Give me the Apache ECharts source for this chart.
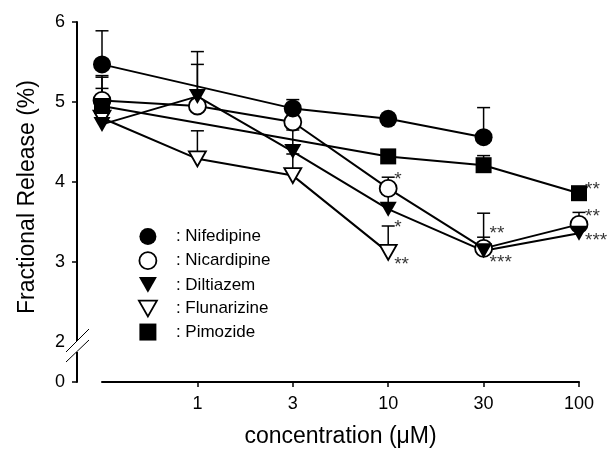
<!DOCTYPE html>
<html>
<head>
<meta charset="utf-8">
<script src="https://cdn.jsdelivr.net/npm/echarts@6/dist/echarts.min.js"></script>
<style>
  html, body { margin: 0; padding: 0; background: #fff; }
  #chart { width: 607px; height: 459px; }
</style>
</head>
<body>
<div id="chart"></div>
<script>
// ---- data ----
var categories = ['', '1', '3', '10', '30', '100']; // first = control
var seriesNames = ['Nifedipine', 'Nicardipine', 'Diltiazem', 'Flunarizine', 'Pimozide'];

var nifedipine     = [5.47, null, 4.92, 4.79, 4.56, null];
var nifedipineErr  = [5.89, null, 5.03, null, 4.93, null];
var nicardipine    = [5.02, 4.95, 4.75, 3.92, 3.17, 3.47];
var nicardipineErr = [5.33, 5.47, 4.88, 4.06, 3.61, 3.62];
var diltiazem      = [4.72, 5.07, 4.38, 3.66, 3.14, 3.36];
var diltiazemErr   = [5.31, 5.63, 4.65, 3.85, 3.31, 3.44];
var flunarizine    = [4.80, 4.29, 4.08, 3.12, null, null];
var flunarizineErr = [5.17, 4.64, 4.35, 3.45, null, null];
var pimozide       = [4.95, null, null, 4.32, 4.21, 3.86];
var pimozideErr    = [null, null, null, null, 4.33, null];

// significance marks: [category index, value level, text]
var stars = [
  [3, 4.09, '*'], [3, 3.49, '*'], [3, 3.03, '**'],
  [4, 3.41, '**'], [4, 3.05, '***'],
  [5, 3.96, '**'], [5, 3.63, '**'], [5, 3.33, '***']
];

var yLabelValues = [1.5, 2, 3, 4, 5, 6]; // 1.5 stands for the broken-axis "0"
var yTickValues = [1.5, 3, 4, 5, 6];

// ---- styling ----
var FONT = 'Liberation Sans, Arial, Helvetica, sans-serif';
var BLACK = '#000';

var styles = {
  Nifedipine:  { symbol: 'circle',   size: 18,       rotate: 0,   fill: BLACK,  border: 0,   z: 9 },
  Nicardipine: { symbol: 'circle',   size: 17,       rotate: 0,   fill: '#fff', border: 1.8, z: 5 },
  Diltiazem:   { symbol: 'triangle', size: [17, 15], rotate: 180, fill: BLACK,  border: 0,   z: 7 },
  Flunarizine: { symbol: 'triangle', size: [17, 15], rotate: 180, fill: '#fff', border: 1.8, z: 6 },
  Pimozide:    { symbol: 'rect',     size: 16,       rotate: 0,   fill: BLACK,  border: 0,   z: 8 }
};

var values = {
  Nifedipine: nifedipine, Nicardipine: nicardipine, Diltiazem: diltiazem,
  Flunarizine: flunarizine, Pimozide: pimozide
};
var errs = {
  Nifedipine: nifedipineErr, Nicardipine: nicardipineErr, Diltiazem: diltiazemErr,
  Flunarizine: flunarizineErr, Pimozide: pimozideErr
};

function toSeriesData(arr) {
  return arr.map(function (v) { return v == null ? '-' : v; });
}

var series = [];
seriesNames.forEach(function (name) {
  series.push({
    name: name,
    type: 'line',
    data: toSeriesData(values[name]),
    connectNulls: true,
    symbol: 'none',
    lineStyle: { color: BLACK, width: 2 },
    z: 2,
    silent: true,
    animation: false
  });
});

// error bars (upper SEM)
var errData = [];
seriesNames.forEach(function (name) {
  values[name].forEach(function (v, i) {
    var e = errs[name][i];
    if (v != null && e != null) errData.push([i, v, e]);
  });
});
series.push({
  type: 'custom',
  name: 'err',
  data: errData,
  z: 3,
  silent: true,
  animation: false,
  renderItem: function (params, api) {
    var p0 = api.coord([api.value(0), api.value(1)]);
    var p1 = api.coord([api.value(0), api.value(2)]);
    var st = { stroke: BLACK, lineWidth: 1.5 };
    return {
      type: 'group',
      children: [
        { type: 'line', shape: { x1: p0[0], y1: p0[1], x2: p1[0], y2: p1[1] }, style: st },
        { type: 'line', shape: { x1: p1[0] - 6.5, y1: p1[1], x2: p1[0] + 6.5, y2: p1[1] }, style: st }
      ]
    };
  }
});

// markers
seriesNames.forEach(function (name) {
  var st = styles[name];
  series.push({
    name: name,
    type: 'scatter',
    data: toSeriesData(values[name]),
    symbol: st.symbol,
    symbolSize: st.size,
    symbolRotate: st.rotate,
    itemStyle: { color: st.fill, borderColor: BLACK, borderWidth: st.border, opacity: 1 },
    z: st.z,
    animation: false
  });
});

// significance asterisks
series.push({
  type: 'scatter',
  name: 'stars',
  data: stars,
  symbolSize: 0,
  z: 10,
  silent: true,
  animation: false,
  label: {
    show: true,
    position: 'right',
    distance: 6,
    offset: [0, 5],
    formatter: function (p) { return p.data[2]; },
    fontFamily: FONT,
    fontSize: 19,
    color: BLACK
  }
});

var legendIcons = {
  Nifedipine: 'circle',
  Nicardipine: 'circle',
  Diltiazem: 'path://M0,0L16,0L8,14Z',
  Flunarizine: 'path://M0,0L16,0L8,14Z',
  Pimozide: 'path://M0,0L10,0L10,10L0,10Z'
};

var option = {
  backgroundColor: '#fff',
  animation: false,
  grid: { left: 102, right: 28, top: 22, bottom: 77, containLabel: false },
  legend: {
    orient: 'vertical',
    left: 133,
    top: 223,
    itemWidth: 18,
    itemHeight: 17,
    itemGap: 6.3,
    selectedMode: false,
    formatter: ': {name}',
    textStyle: { fontFamily: FONT, fontSize: 17, color: BLACK, padding: [0, 0, 0, 14] },
    data: seriesNames.map(function (name) {
      var st = styles[name];
      return {
        name: name,
        icon: legendIcons[name],
        itemStyle: { color: st.fill, borderColor: BLACK, borderWidth: st.border ? 1.8 : 0 }
      };
    })
  },
  xAxis: {
    type: 'category',
    data: categories,
    boundaryGap: false,
    name: 'concentration (\u03bcM)',
    nameLocation: 'middle',
    nameGap: 43,
    nameTextStyle: { fontFamily: FONT, fontSize: 23, color: BLACK },
    axisLine: { show: true, lineStyle: { color: BLACK, width: 2 } },
    axisTick: {
      show: true,
      alignWithLabel: true,
      length: 5,
      interval: function (index) { return index > 0; },
      lineStyle: { color: BLACK, width: 1.5 }
    },
    axisLabel: { interval: 0, margin: 13, fontFamily: FONT, fontSize: 18, color: BLACK },
    splitLine: { show: false }
  },
  yAxis: {
    type: 'value',
    min: 1.5,
    max: 6,
    interval: 0.5,
    offset: 25,
    name: 'Fractional Release (%)',
    nameLocation: 'middle',
    nameGap: 38,
    nameTextStyle: { fontFamily: FONT, fontSize: 23, color: BLACK, padding: [0, 0, 0, 10] },
    axisLine: { show: true, lineStyle: { color: BLACK, width: 2 } },
    axisTick: { show: true, length: 5, customValues: yTickValues, lineStyle: { color: BLACK, width: 1.5 } },
    axisLabel: {
      margin: 12,
      fontFamily: FONT,
      fontSize: 18,
      color: BLACK,
      customValues: yLabelValues,
      formatter: function (v) { return v === 1.5 ? '0' : String(v); }
    },
    splitLine: { show: false }
  },
  series: series
};

var chart = echarts.init(document.getElementById('chart'), null, { renderer: 'canvas' });
chart.setOption(option);

// axis break marks between 0 and 2
var p2 = chart.convertToPixel({ gridIndex: 0 }, [0, 2]);
var axisX = p2[0] - 25;
var gapTop = p2[1] - 1;
var gapBottom = p2[1] + 10;
chart.setOption({
  graphic: [
    { type: 'rect', z: 100, shape: { x: axisX - 3, y: gapTop, width: 6, height: gapBottom - gapTop },
      style: { fill: '#fff' } },
    { type: 'line', z: 101, shape: { x1: axisX - 11, y1: gapTop + 11, x2: axisX + 12, y2: gapTop - 12 },
      style: { stroke: BLACK, lineWidth: 1 } },
    { type: 'line', z: 101, shape: { x1: axisX - 11, y1: gapBottom + 10, x2: axisX + 12, y2: gapBottom - 12 },
      style: { stroke: BLACK, lineWidth: 1 } }
  ]
});
</script>
</body>
</html>
